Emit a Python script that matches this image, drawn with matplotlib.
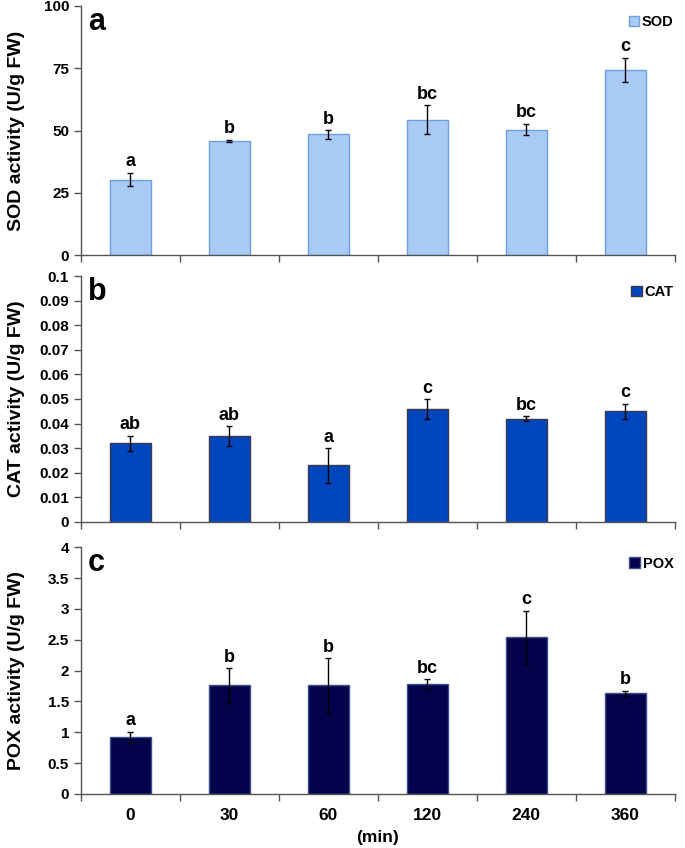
import matplotlib
matplotlib.use("Agg")
import matplotlib.pyplot as plt
from matplotlib.ticker import FuncFormatter
import numpy as np

plt.rcParams['font.family'] = ['Liberation Sans', 'DejaVu Sans']
plt.rcParams['font.weight'] = 'bold'

# data
times = ['0', '30', '60', '120', '240', '360']

sod = [30.3, 45.8, 48.5, 54.4, 50.4, 74.4]
sod_err = [2.7, 0.5, 1.7, 5.7, 2.3, 4.9]
sod_letters = ['a', 'b', 'b', 'bc', 'bc', 'c']

cat = [0.032, 0.035, 0.023, 0.046, 0.042, 0.045]
cat_err = [0.003, 0.004, 0.007, 0.004, 0.001, 0.003]
cat_letters = ['ab', 'ab', 'a', 'c', 'bc', 'c']

pox = [0.92, 1.76, 1.76, 1.78, 2.54, 1.63]
pox_err = [0.09, 0.28, 0.44, 0.08, 0.43, 0.04]
pox_letters = ['a', 'b', 'b', 'bc', 'c', 'b']

panels = [
    ('a', 'SOD', sod, sod_err, sod_letters, '#A9CAF4', '#6E9FE0', (0, 100), [0, 25, 50, 75, 100], 'SOD activity (U/g FW)'),
    ('b', 'CAT', cat, cat_err, cat_letters, '#0046BF', '#3A3A4A', (0, 0.1), list(np.arange(0, 0.1001, 0.01)), 'CAT activity (U/g FW)'),
    ('c', 'POX', pox, pox_err, pox_letters, '#02034A', '#3C4E8C', (0, 4), list(np.arange(0, 4.01, 0.5)), 'POX activity (U/g FW)'),
]

fig = plt.figure(figsize=(6.85, 8.48), dpi=100)
rects = [[0.118, 0.699, 0.867, 0.294],
         [0.118, 0.3845, 0.867, 0.290],
         [0.118, 0.0637, 0.867, 0.291]]

x = np.arange(len(times))

def fmt(v, p):
    if v == 0:
        return '0'
    return ('%.2f' % v).rstrip('0').rstrip('.')

for i, (letter, name, vals, errs, sig, fc, ec, ylim, yticks, ylabel) in enumerate(panels):
    ax = fig.add_axes(rects[i])
    ax.bar(x, vals, width=0.41, color=fc, edgecolor=ec, linewidth=1, label=name)
    ax.errorbar(x, vals, yerr=errs, fmt='none', ecolor='black', elinewidth=1,
                capsize=2.5, capthick=1)
    span = ylim[1] - ylim[0]
    for xi, v, e, s in zip(x, vals, errs, sig):
        ax.text(xi, v + e + span * 0.01, s, ha='center', va='bottom',
                fontsize=13, fontweight='bold')

    ax.set_xlim(-0.5, 5.5)
    ax.set_ylim(*ylim)
    ax.set_yticks(yticks)
    ax.yaxis.set_major_formatter(FuncFormatter(fmt))
    ax.set_xticks(np.arange(-0.5, 6.0, 1.0))
    ax.set_xticklabels([])
    ax.set_xticks(x, minor=True)
    if i == 2:
        ax.set_xticklabels(times, minor=True, fontsize=12.5, fontweight='bold')
        ax.set_xlabel('(min)', fontsize=12.5, fontweight='bold', labelpad=5)
    ax.tick_params(axis='x', which='minor', length=0, pad=10)
    ax.tick_params(axis='x', which='major', direction='out', length=5, width=1, colors='#555555')
    ax.tick_params(axis='y', direction='out', length=5, width=1, colors='#555555', labelsize=11)
    for lab in ax.get_yticklabels():
        lab.set_color('black')
        lab.set_fontweight('bold')
    for side in ['top', 'right']:
        ax.spines[side].set_visible(False)
    for side in ['left', 'bottom']:
        ax.spines[side].set_color('#555555')
        ax.spines[side].set_linewidth(1)

    ax.set_ylabel(ylabel, fontsize=14, fontweight='bold')
    ax.yaxis.set_label_coords(-0.094, 0.5)
    ax.text(0.012, 0.995, letter, transform=ax.transAxes, ha='left', va='top',
            fontsize=22, fontweight='bold')
    ax.legend(loc='upper right', bbox_to_anchor=(1.02, 1.015), frameon=False,
              handlelength=0.7, handleheight=0.7, handletextpad=0.2,
              prop={'size': 10.5, 'weight': 'bold'})

fig.savefig('out.png', dpi=100)
